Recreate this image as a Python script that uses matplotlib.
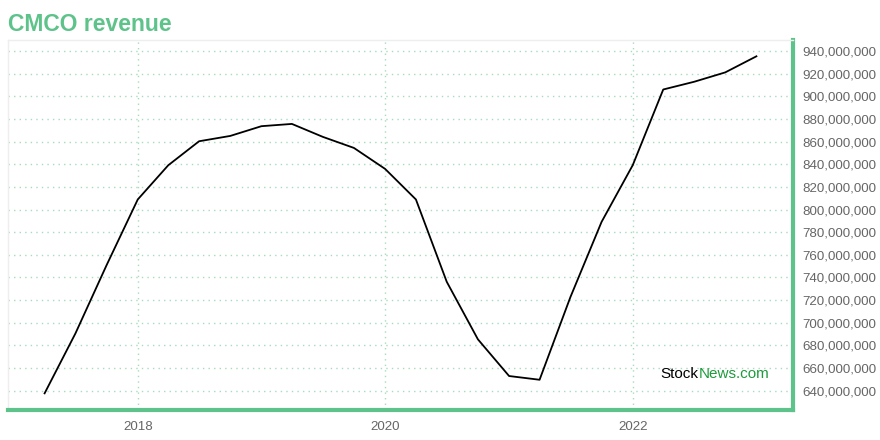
import matplotlib
matplotlib.use("Agg")
from matplotlib import pyplot as plt
import matplotlib.dates as mdates
from matplotlib.ticker import FuncFormatter
import pandas as pd

plt.rcParams['font.family'] = ['Liberation Sans', 'DejaVu Sans']

# quarterly revenue, quarter ends 2017-03 .. 2022-12
quarters = pd.date_range('2017-03-31', periods=24, freq='QE')
revenue = [637.7, 690.6, 750.9, 808.9, 839.1, 860.3, 865.0, 873.6,
           875.6, 864.2, 854.4, 835.9, 808.9, 736.2, 685.4, 653.0,
           649.7, 722.7, 789.1, 839.2, 906.0, 912.8, 921.1, 935.3]
revenue = [v * 1e6 for v in revenue]
yticks = [v * 1e6 for v in range(640, 941, 20)]
years = [pd.Timestamp('2018-01-01'), pd.Timestamp('2020-01-01'), pd.Timestamp('2022-01-01')]

green = '#5ec38a'
grid_green = '#a6dcbc'

fig = plt.figure(figsize=(8.8, 4.4), dpi=100)
ax = fig.add_axes([8/880, 30/440, 785/880, 370/440])

ax.plot(quarters, revenue, color='black', linewidth=1.3)

ax.set_xlim(pd.Timestamp('2016-12-13'), pd.Timestamp('2023-04-18'))
ax.set_ylim(623e6, 949.7e6)

ax.set_yticks(yticks)
ax.yaxis.set_major_formatter(FuncFormatter(lambda v, p: f'{int(round(v)):,}'))
ax.yaxis.tick_right()
ax.set_xticks(years)
ax.xaxis.set_major_formatter(mdates.DateFormatter('%Y'))

ax.tick_params(axis='both', length=0, labelsize=9.6, labelcolor='#666666')
ax.tick_params(axis='y', pad=7)
ax.tick_params(axis='x', pad=8)

ax.grid(True, linestyle=(0, (1, 3)), color=grid_green, linewidth=1)

for side in ['top', 'left']:
    ax.spines[side].set_color('#eeeeee')
    ax.spines[side].set_linewidth(1)
for side in ['bottom', 'right']:
    ax.spines[side].set_color(green)
    ax.spines[side].set_linewidth(3)

fig.text(8/880, 1 - 31/440, 'CMCO revenue', color=green, fontsize=16.5,
         fontweight='bold', ha='left', va='baseline')

t1 = ax.text(0.831, 0.098, 'Stock', transform=ax.transAxes, color='black',
             fontsize=11, ha='left', va='center')
fig.canvas.draw()
bb = t1.get_window_extent().transformed(ax.transAxes.inverted())
ax.text(bb.x1, 0.098, 'News.com', transform=ax.transAxes, color='#1e9a3c',
        fontsize=11, ha='left', va='center')

fig.savefig('out.png', dpi=100)
